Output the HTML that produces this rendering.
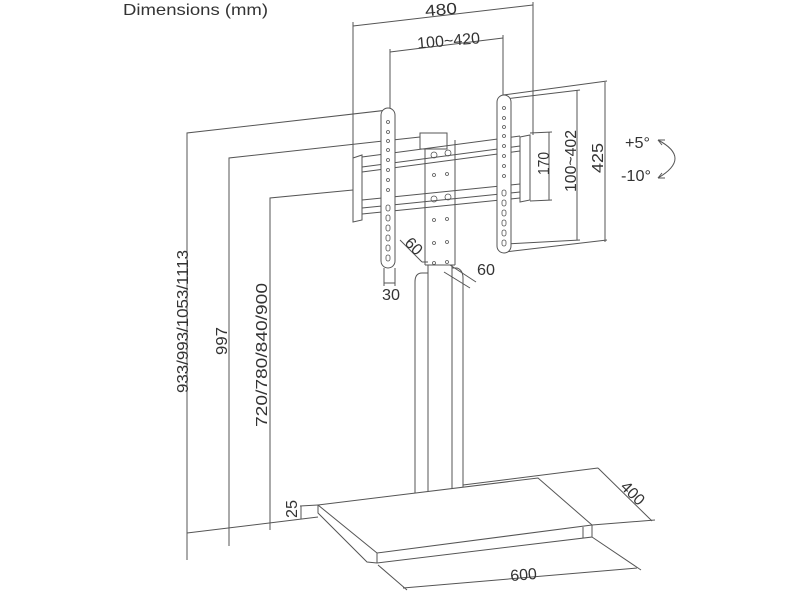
<!DOCTYPE html>
<html><head><meta charset="utf-8"><style>
html,body{margin:0;padding:0;background:#fff;}
svg{display:block;}
text{font-family:"Liberation Sans",sans-serif;fill:#333;font-size:16px;}
</style></head><body>
<svg width="800" height="600" viewBox="0 0 800 600" xmlns="http://www.w3.org/2000/svg">
<g fill="none" stroke="#555" stroke-width="1">
<polyline points="388,110 187,133 187,560"/>
<polyline points="420,137 229,158 229,546"/>
<polyline points="353,190 270,198 270,530"/>
<line x1="187" y1="533" x2="318" y2="517"/>
<line x1="300" y1="506" x2="318" y2="505"/>
<line x1="301" y1="506" x2="301" y2="519"/>
<line x1="353" y1="26" x2="533" y2="5"/>
<line x1="353" y1="22" x2="353" y2="158"/>
<line x1="533" y1="2" x2="533" y2="135"/>
<line x1="390" y1="52" x2="503" y2="38"/>
<line x1="390" y1="49" x2="390" y2="108"/>
<line x1="503" y1="35" x2="503" y2="95"/>
<line x1="503" y1="95" x2="607" y2="81"/>
<line x1="505" y1="99" x2="580" y2="90"/>
<line x1="505" y1="252" x2="607" y2="240"/>
<line x1="505" y1="244" x2="580" y2="240"/>
<line x1="605" y1="82" x2="605" y2="242"/>
<line x1="577" y1="90" x2="577" y2="240"/>
<line x1="530" y1="133" x2="552" y2="132"/>
<line x1="530" y1="201" x2="552" y2="200"/>
<line x1="549" y1="132" x2="549" y2="200"/>
<path d="M658,140 Q692,158 658,178"/>
<path d="M658,140 l7,0 M658,140 l4,5 M658,178 l7,0 M658,178 l4,-5"/>
<rect x="420" y="133" width="27" height="16"/>
<line x1="425" y1="149" x2="425" y2="265"/>
<line x1="455" y1="140" x2="455" y2="265"/>
<path d="M415,503 L415,282 Q415,273 422,273 L428,273"/>
<line x1="428" y1="265" x2="428" y2="503"/>
<line x1="452" y1="265" x2="452" y2="503"/>
<path d="M452,268 L457,268 Q463,270 463,278 L463,503"/>
<line x1="425" y1="265" x2="455" y2="265"/>
<line x1="415" y1="503" x2="463" y2="503"/>
<polygon points="353,158 362,155 362,220 353,222" fill="#fff"/>
<polygon points="520,137 530,135 530,200 520,202" fill="#fff"/>
<polyline points="362,157 520,136"/>
<polyline points="362,167 520,146"/>
<polyline points="362,172 520,151"/>
<polyline points="362,200 520,184"/>
<polyline points="362,208 520,192"/>
<polyline points="362,214 520,198"/>
<rect x="381" y="108" width="14" height="160" rx="7" fill="#fff"/>
<rect x="497" y="95" width="14" height="158" rx="7" fill="#fff"/>
<g stroke-width="0.8">
<circle cx="388" cy="122" r="1.5"/><circle cx="388" cy="132" r="1.5"/><circle cx="388" cy="141" r="1.5"/><circle cx="388" cy="150" r="1.5"/><circle cx="388" cy="160" r="1.5"/><circle cx="388" cy="170" r="1.5"/><circle cx="388" cy="180" r="1.5"/><circle cx="388" cy="190" r="1.5"/>
<rect x="386" y="205" width="4" height="6" rx="2"/><rect x="386" y="215" width="4" height="6" rx="2"/><rect x="386" y="225" width="4" height="6" rx="2"/><rect x="386" y="235" width="4" height="6" rx="2"/><rect x="386" y="245" width="4" height="6" rx="2"/><rect x="386" y="255" width="4" height="6" rx="2"/>
<circle cx="504" cy="108" r="1.5"/><circle cx="504" cy="118" r="1.5"/><circle cx="504" cy="127" r="1.5"/><circle cx="504" cy="136" r="1.5"/><circle cx="504" cy="146" r="1.5"/><circle cx="504" cy="156" r="1.5"/><circle cx="504" cy="166" r="1.5"/><circle cx="504" cy="176" r="1.5"/>
<rect x="502" y="190" width="4" height="6" rx="2"/><rect x="502" y="200" width="4" height="6" rx="2"/><rect x="502" y="210" width="4" height="6" rx="2"/><rect x="502" y="220" width="4" height="6" rx="2"/><rect x="502" y="230" width="4" height="6" rx="2"/><rect x="502" y="240" width="4" height="6" rx="2"/>
<circle cx="434" cy="155" r="3"/><circle cx="448" cy="153" r="3"/><circle cx="434" cy="199" r="3"/><circle cx="448" cy="197" r="3"/>
<circle cx="434" cy="175" r="1.5"/><circle cx="447" cy="174" r="1.5"/><circle cx="434" cy="220" r="1.5"/><circle cx="447" cy="219" r="1.5"/><circle cx="434" cy="243" r="1.5"/><circle cx="447" cy="242" r="1.5"/><circle cx="434" cy="263" r="1.5"/><circle cx="447" cy="262" r="1.5"/>
</g>
<line x1="384" y1="268" x2="384" y2="286"/>
<line x1="395" y1="268" x2="395" y2="286"/>
<line x1="384" y1="283" x2="395" y2="283"/>
<line x1="400" y1="240" x2="422" y2="262"/>
<line x1="422" y1="262" x2="428" y2="262"/>
<line x1="450" y1="265" x2="476" y2="282"/>
<line x1="444" y1="272" x2="470" y2="288"/>
<polygon points="318,505 538,478 592,525 377,553" fill="#fff"/>
<polyline points="318,505 318,513 367,562 377,563 592,537 592,525"/>
<line x1="377" y1="553" x2="377" y2="563"/>
<line x1="583" y1="527" x2="583" y2="538"/>
<path d="M463,485 L598,468 M592,525 L655,520 M598,468 L652,521"/>
<path d="M378,565 L407,590 M592,537 L641,570 M403,588 L637,568"/>
</g>
<text x="123" y="15" textLength="145" lengthAdjust="spacingAndGlyphs">Dimensions (mm)</text>
<text x="425" y="15" textLength="32" lengthAdjust="spacingAndGlyphs" transform="rotate(-5 441 10)">480</text>
<text x="417" y="46" textLength="63" lengthAdjust="spacingAndGlyphs" transform="rotate(-5 448 40)">100~420</text>
<text transform="translate(549,175) rotate(-90)" textLength="23" lengthAdjust="spacingAndGlyphs">170</text>
<text transform="translate(576,192) rotate(-90)" textLength="62" lengthAdjust="spacingAndGlyphs">100~402</text>
<text transform="translate(603,173) rotate(-90)" textLength="30" lengthAdjust="spacingAndGlyphs">425</text>
<text x="625" y="148" textLength="25" lengthAdjust="spacingAndGlyphs">+5°</text>
<text x="621" y="181" textLength="30" lengthAdjust="spacingAndGlyphs">-10°</text>
<text transform="translate(188,393) rotate(-90)" textLength="143" lengthAdjust="spacingAndGlyphs">933/993/1053/1113</text>
<text transform="translate(227,355) rotate(-90)" textLength="28" lengthAdjust="spacingAndGlyphs">997</text>
<text transform="translate(267,427) rotate(-90)" textLength="144" lengthAdjust="spacingAndGlyphs">720/780/840/900</text>
<text transform="translate(297,518) rotate(-90)" textLength="18" lengthAdjust="spacingAndGlyphs">25</text>
<text transform="translate(410,250) rotate(45)" text-anchor="middle">60</text>
<text x="477" y="275" textLength="18" lengthAdjust="spacingAndGlyphs">60</text>
<text x="382" y="300" textLength="18" lengthAdjust="spacingAndGlyphs">30</text>
<text transform="translate(629,497) rotate(45)" text-anchor="middle">400</text>
<text transform="translate(524,580) rotate(-5)" text-anchor="middle">600</text>
</svg>
</body></html>
